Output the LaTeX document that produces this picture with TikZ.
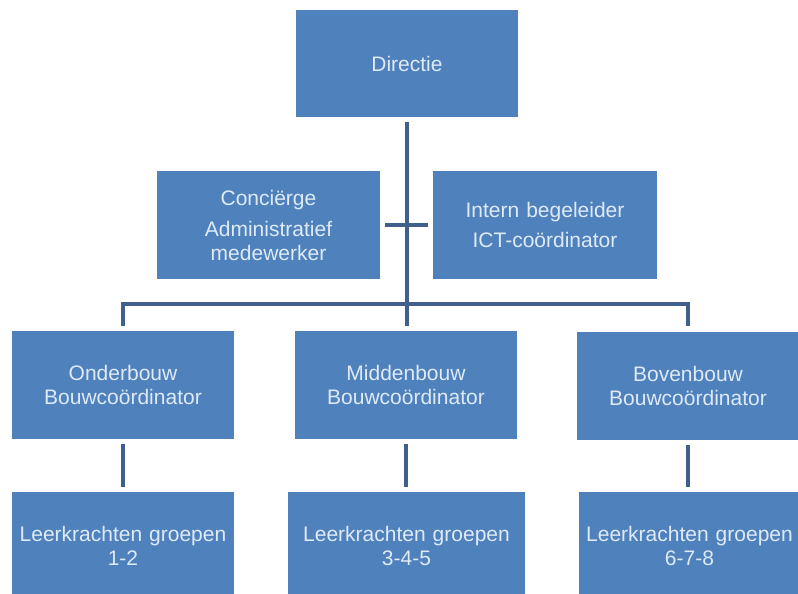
\documentclass[tikz,border=0pt]{standalone}
\usepackage{fontspec}
\setmainfont{Liberation Sans}
\usepackage{xcolor}
\definecolor{boxblue}{RGB}{79,129,189}
\definecolor{boxtext}{RGB}{222,234,246}
\definecolor{linkblue}{RGB}{65,95,140}
\begin{document}
\begin{tikzpicture}[x=1pt, y=-1pt,
  box/.style={rectangle, fill=boxblue, text=boxtext, inner sep=0pt, align=center,
    text width=#1, minimum height=108pt, font=\fontsize{21}{24}\selectfont},
  box/.default=222pt,
  conn/.style={draw=linkblue, line width=4pt, shorten <=5pt, shorten >=5pt}]
\path[use as bounding box, clip] (0,0) rectangle (798,594);
\node[box, minimum height=107pt] (dir) at (407, 63.5) {Directie};
\node[box=223pt] (con) at (268.5, 225) {Conci\"erge\\[7pt]Administratief\\medewerker};
\node[box=224pt] (int) at (545, 225) {Intern begeleider\\[6pt]ICT-co\"ordinator};
\node[box] (ond) at (123, 385) {Onderbouw\\Bouwco\"ordinator};
\node[box] (mid) at (406, 385) {Middenbouw\\Bouwco\"ordinator};
\node[box] (bov) at (688, 385.5) {Bovenbouw\\Bouwco\"ordinator};
\node[box] (lk1) at (123, 546) {Leerkrachten groepen\\1-2};
\node[box=237pt] (lk2) at (406.5, 546) {Leerkrachten groepen\\3-4-5};
\node[box=221pt] (lk3) at (689.5, 546) {Leerkrachten groepen\\6-7-8};
\coordinate (bus) at (407, 304);
\draw[conn] (dir.south) -- (dir.south |- mid.north);
\draw[conn] (con.east) -- (int.west);
\draw[conn] (ond.north) |- (bus) -| (bov.north);
\draw[conn] (ond.south) -- (ond.south |- lk1.north);
\draw[conn] (mid.south) -- (mid.south |- lk2.north);
\draw[conn] (bov.south) -- (bov.south |- lk3.north);
\end{tikzpicture}
\end{document}
